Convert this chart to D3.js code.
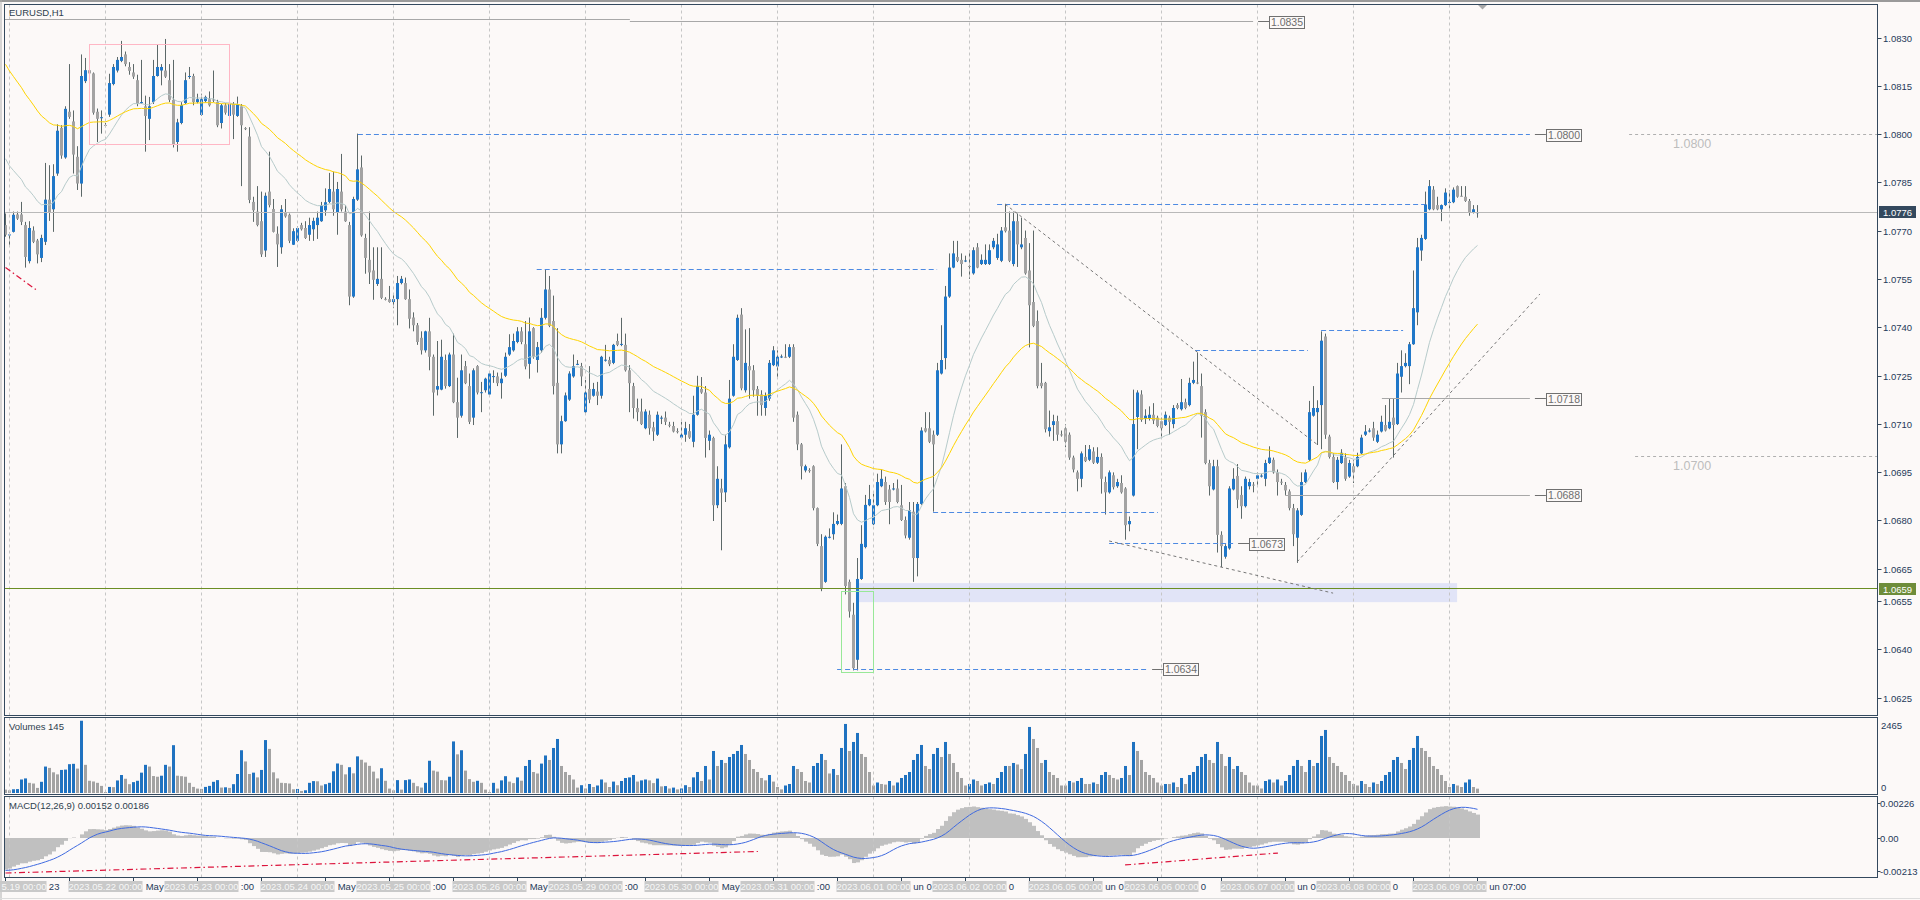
<!DOCTYPE html>
<html><head><meta charset="utf-8">
<script src="https://cdn.jsdelivr.net/npm/d3@7"></script>
<style>html,body{margin:0;padding:0;background:#fcf9f8;overflow:hidden}</style>
</head><body><svg id="chart" width="1920" height="900"></svg>
<script>
// ---------------- DATA (EURUSD H1, bar 0 = 18 May 23:00) ----------------
const open = [
1.07719,1.07688,1.07698,1.07752,1.07752,1.07719,1.07607,1.07702,1.07671,1.07617,1.07667,1.07798,
1.07768,1.07879,1.08021,1.07929,1.08071,1.08041,1.07931,1.07848,1.08166,1.08200,1.08190,1.08071,
1.08051,1.08030,1.08062,1.08157,1.08199,1.08229,1.08249,1.08210,1.08193,1.08169,1.08098,1.08088,
1.08049,1.08101,1.08182,1.08199,1.08199,1.08169,1.08108,1.07977,1.08036,1.08098,1.08180,1.08182,
1.08101,1.08061,1.08104,1.08110,1.08109,1.08101,1.08036,1.08091,1.08058,1.08095,1.08058,1.08088,
1.08020,1.07994,1.07791,1.07761,1.07731,1.07640,1.07823,1.07769,1.07692,1.07650,1.07759,1.07751,
1.07658,1.07670,1.07719,1.07710,1.07689,1.07706,1.07719,1.07731,1.07765,1.07791,1.07823,1.07759,
1.07823,1.07761,1.07719,1.07497,1.07798,1.07898,1.07679,1.07611,
1.07578,1.07536,1.07552,1.07490,1.07489,1.07480,1.07489,1.07539,1.07539,1.07489,1.07432,1.07408,
1.07369,1.07330,1.07389,1.07310,1.07208,1.07208,1.07300,1.07219,1.07317,1.07169,1.07127,1.07281,
1.07219,1.07121,1.07281,1.07199,1.07206,1.07193,1.07249,1.07249,1.07228,1.07251,1.07317,1.07330,
1.07356,1.07389,1.07349,1.07288,1.07399,1.07300,1.07330,1.07431,1.07519,1.07421,1.07229,1.07038,
1.07110,1.07177,1.07249,1.07287,1.07281,1.07138,1.07210,1.07189,1.07202,1.07189,1.07300,1.07300,
1.07291,1.07359,1.07349,1.07347,1.07268,1.07219,1.07151,1.07140,1.07088,1.07130,1.07091,1.07068,
1.07120,1.07121,1.07099,1.07095,1.07079,1.07059,1.07068,1.07079,1.07046,1.07130,1.07210,1.07199,
1.07049,1.07058,1.06849,1.06901,1.06889,1.07029,1.07189,1.07300,
1.07441,1.07206,1.07281,1.07268,1.07210,1.07193,1.07151,1.07180,1.07284,1.07280,1.07310,1.07310,
1.07310,1.07340,1.07130,1.07038,1.06957,1.06958,1.06970,1.06840,1.06722,1.06611,1.06748,1.06759,
1.06791,1.06791,1.06908,1.06611,1.06509,1.06369,1.06620,1.06719,1.06849,1.06790,1.06849,1.06908,
1.06921,1.06898,1.06899,1.06901,1.06849,1.06803,1.06748,1.06829,1.06685,1.06853,1.07088,1.07088,
1.07068,1.07068,1.07258,1.07306,1.07497,1.07587,1.07620,1.07611,1.07607,1.07592,1.07569,1.07650,
1.07598,1.07598,1.07598,1.07650,1.07617,1.07608,1.07712,1.07702,1.07598,1.07731,1.07650,1.07679,
1.07578,1.07480,1.07421,1.07229,1.07229,1.07079,1.07098,1.07110,1.07069,1.07088,1.07068,1.06997,
1.06951,1.06931,1.06999,1.06990,1.07016,1.06981,1.06999,1.06921,1.06889,
1.06942,1.06908,1.06918,1.06901,1.06790,1.06879,1.07123,1.07193,1.07117,1.07117,1.07130,1.07121,
1.07110,1.07098,1.07121,1.07101,1.07160,1.07147,1.07169,1.07160,1.07229,1.07230,1.07219,1.07138,
1.06980,1.06898,1.06970,1.06757,1.06689,1.06715,1.06898,1.06940,1.06881,1.06846,1.06908,1.06913,
1.06931,1.06940,1.06931,1.06980,1.06990,1.06951,1.06922,1.06912,1.06892,1.06840,1.06748,1.06819,
1.06921,1.06990,1.07127,1.07138,1.07160,1.07373,1.07062,1.06999,1.06921,1.06980,1.06997,1.06938,
1.06970,1.06970,1.07010,1.07068,1.07080,1.07088,1.07046,1.07078,1.07098,1.07088,1.07121,1.07101,
1.07248,1.07281,1.07281,1.07349,1.07448,1.07640,1.07676,1.07768,1.07829,1.07781,1.07768,1.07781,
1.07790,1.07790,1.07840,1.07810,1.07807,1.07794,1.07759,1.07758
];
const high = [
1.07755,1.07696,1.07761,1.07761,1.07791,1.07729,1.07731,1.07715,1.07676,1.07689,1.07912,1.07905,
1.07908,1.08032,1.08029,1.08088,1.08219,1.08075,1.07964,1.08249,1.08238,1.08206,1.08193,1.08081,
1.08075,1.08036,1.08189,1.08219,1.08241,1.08291,1.08258,1.08225,1.08219,1.08186,1.08232,1.08121,
1.08117,1.08232,1.08280,1.08219,1.08297,1.08219,1.08232,1.08049,1.08101,1.08193,1.08210,1.08189,
1.08127,1.08127,1.08121,1.08134,1.08199,1.08108,1.08095,1.08098,1.08098,1.08101,1.08118,1.08095,
1.08023,1.08023,1.07807,1.07840,1.07823,1.07820,1.07947,1.07800,1.07715,1.07781,1.07800,1.07755,
1.07709,1.07715,1.07726,1.07731,1.07742,1.07742,1.07761,1.07791,1.07833,1.07881,1.07885,1.07853,
1.07940,1.07781,1.07729,1.07807,1.08003,1.07935,1.07692,1.07761,
1.07650,1.07650,1.07650,1.07495,1.07530,1.07506,1.07561,1.07561,1.07556,1.07519,1.07448,1.07415,
1.07389,1.07391,1.07431,1.07317,1.07359,1.07363,1.07317,1.07323,1.07382,1.07245,1.07317,1.07297,
1.07258,1.07274,1.07284,1.07232,1.07245,1.07265,1.07268,1.07261,1.07261,1.07323,1.07380,1.07382,
1.07402,1.07402,1.07421,1.07432,1.07402,1.07356,1.07461,1.07581,1.07561,1.07500,1.07399,1.07127,
1.07199,1.07265,1.07317,1.07300,1.07291,1.07238,1.07281,1.07229,1.07232,1.07313,1.07347,1.07310,
1.07350,1.07382,1.07431,1.07382,1.07284,1.07229,1.07180,1.07180,1.07147,1.07143,1.07108,1.07140,
1.07127,1.07140,1.07108,1.07108,1.07088,1.07108,1.07108,1.07101,1.07189,1.07251,1.07247,1.07219,
1.07081,1.07062,1.06970,1.06931,1.07068,1.07238,1.07349,1.07441,
1.07461,1.07395,1.07399,1.07284,1.07219,1.07206,1.07199,1.07300,1.07343,1.07330,1.07317,1.07349,
1.07349,1.07349,1.07140,1.07042,1.06975,1.06964,1.06973,1.06842,1.06759,1.06755,1.06777,1.06827,
1.06820,1.07038,1.06918,1.06618,1.06546,1.06685,1.06787,1.06881,1.06912,1.06885,1.06947,1.06960,
1.06938,1.06912,1.06918,1.06929,1.06912,1.06814,1.06859,1.06859,1.06859,1.07091,1.07138,1.07138,
1.07081,1.07291,1.07408,1.07530,1.07631,1.07670,1.07670,1.07631,1.07624,1.07640,1.07650,1.07663,
1.07628,1.07659,1.07659,1.07679,1.07692,1.07713,1.07785,1.07761,1.07761,1.07755,1.07742,1.07702,
1.07663,1.07702,1.07454,1.07291,1.07232,1.07143,1.07130,1.07127,1.07081,1.07101,1.07075,1.07003,
1.06957,1.07016,1.07036,1.07036,1.07029,1.07029,1.07010,1.06938,1.06957,
1.06951,1.06931,1.06942,1.06905,1.06814,1.07208,1.07206,1.07206,1.07147,1.07156,1.07166,1.07127,
1.07121,1.07140,1.07127,1.07160,1.07166,1.07241,1.07180,1.07245,1.07295,1.07323,1.07258,1.07147,
1.06990,1.06990,1.06990,1.06768,1.06728,1.06908,1.06964,1.06977,1.06908,1.06938,1.06931,1.06921,
1.06951,1.06947,1.06990,1.07032,1.06997,1.06960,1.06931,1.06921,1.06898,1.06853,1.06840,1.06951,
1.06960,1.07173,1.07219,1.07175,1.07389,1.07382,1.07068,1.07010,1.06999,1.07023,1.07010,1.06990,
1.06990,1.07012,1.07068,1.07098,1.07088,1.07108,1.07081,1.07127,1.07160,1.07180,1.07180,1.07291,
1.07330,1.07321,1.07356,1.07578,1.07679,1.07689,1.07823,1.07859,1.07840,1.07807,1.07783,1.07833,
1.07827,1.07836,1.07842,1.07840,1.07840,1.07800,1.07781,1.07781
];
const low = [
1.07683,1.07657,1.07696,1.07735,1.07719,1.07587,1.07600,1.07663,1.07600,1.07604,1.07657,1.07732,
1.07698,1.07872,1.07925,1.07925,1.08049,1.07879,1.07828,1.07807,1.08160,1.08186,1.08062,1.07977,
1.08003,1.08023,1.08055,1.08153,1.08193,1.08225,1.08212,1.08186,1.08173,1.08088,1.08095,1.07947,
1.07983,1.08095,1.08180,1.08153,1.08176,1.08101,1.07960,1.07947,1.08032,1.08095,1.08173,1.08091,
1.08097,1.08058,1.08100,1.08087,1.08101,1.08023,1.08019,1.08062,1.08036,1.07986,1.08055,1.07840,
1.08014,1.07787,1.07729,1.07715,1.07620,1.07620,1.07774,1.07696,1.07589,1.07630,1.07742,1.07663,
1.07657,1.07666,1.07702,1.07676,1.07670,1.07670,1.07676,1.07729,1.07748,1.07787,1.07748,1.07689,
1.07761,1.07729,1.07470,1.07493,1.07794,1.07683,1.07568,1.07536,
1.07487,1.07530,1.07489,1.07485,1.07478,1.07461,1.07408,1.07535,1.07487,1.07398,1.07389,1.07347,
1.07317,1.07323,1.07268,1.07127,1.07190,1.07206,1.07211,1.07216,1.07166,1.07058,1.07121,1.07225,
1.07101,1.07098,1.07193,1.07138,1.07199,1.07190,1.07229,1.07219,1.07180,1.07247,1.07313,1.07326,
1.07352,1.07349,1.07271,1.07242,1.07304,1.07261,1.07323,1.07426,1.07402,1.07193,1.07010,1.07010,
1.07108,1.07173,1.07245,1.07284,1.07219,1.07134,1.07166,1.07186,1.07160,1.07180,1.07295,1.07281,
1.07287,1.07343,1.07343,1.07264,1.07138,1.07118,1.07110,1.07098,1.07085,1.07068,1.07049,1.07064,
1.07101,1.07098,1.07091,1.07075,1.07072,1.07055,1.07046,1.07055,1.07029,1.07127,1.07195,1.06997,
1.07020,1.06800,1.06840,1.06709,1.06859,1.07025,1.07186,1.07297,
1.07206,1.07199,1.07180,1.07186,1.07127,1.07127,1.07127,1.07173,1.07281,1.07245,1.07306,1.07306,
1.07306,1.07108,1.07020,1.06929,1.06951,1.06950,1.06833,1.06722,1.06582,1.06608,1.06746,1.06742,
1.06787,1.06787,1.06572,1.06500,1.06336,1.06336,1.06617,1.06715,1.06846,1.06787,1.06846,1.06905,
1.06850,1.06790,1.06895,1.06855,1.06800,1.06746,1.06742,1.06611,1.06628,1.06850,1.07075,1.07042,
1.06829,1.07064,1.07255,1.07271,1.07493,1.07585,1.07604,1.07559,1.07604,1.07552,1.07565,1.07585,
1.07595,1.07595,1.07595,1.07644,1.07611,1.07604,1.07696,1.07604,1.07591,1.07589,1.07644,1.07565,
1.07339,1.07402,1.07212,1.07212,1.07075,1.07062,1.07049,1.07049,1.07062,1.07029,1.06990,1.06951,
1.06892,1.06905,1.06983,1.06986,1.06977,1.06977,1.06885,1.06820,1.06885,
1.06898,1.06903,1.06885,1.06742,1.06768,1.06876,1.07023,1.07108,1.07101,1.07112,1.07101,1.07091,
1.07062,1.07095,1.07068,1.07088,1.07147,1.07143,1.07147,1.07156,1.07225,1.07225,1.07059,1.06976,
1.06879,1.06895,1.06702,1.06657,1.06683,1.06711,1.06895,1.06840,1.06807,1.06842,1.06898,1.06889,
1.06908,1.06935,1.06908,1.06977,1.06947,1.06879,1.06912,1.06881,1.06833,1.06722,1.06670,1.06816,
1.06918,1.06986,1.07124,1.07036,1.07023,1.07055,1.06994,1.06918,1.06898,1.06977,1.06925,1.06934,
1.06918,1.06967,1.07007,1.07064,1.07075,1.07049,1.07042,1.07075,1.07078,1.07085,1.06997,1.07098,
1.07199,1.07277,1.07225,1.07347,1.07408,1.07608,1.07673,1.07765,1.07765,1.07765,1.07731,1.07778,
1.07770,1.07787,1.07804,1.07807,1.07791,1.07748,1.07755,1.07742
];
const close = [
1.07689,1.07690,1.07751,1.07739,1.07729,1.07620,1.07710,1.07667,1.07628,1.07679,1.07798,1.07759,
1.07871,1.08012,1.07935,1.08080,1.08055,1.07938,1.07848,1.08182,1.08200,1.08190,1.08068,1.08049,
1.08054,1.08028,1.08160,1.08210,1.08232,1.08241,1.08219,1.08198,1.08180,1.08095,1.08101,1.08058,
1.08088,1.08182,1.08210,1.08210,1.08180,1.08108,1.07970,1.08038,1.08092,1.08169,1.08182,1.08101,
1.08110,1.08110,1.08117,1.08091,1.08107,1.08029,1.08091,1.08068,1.08095,1.08062,1.08095,1.08029,
1.08019,1.07797,1.07765,1.07719,1.07628,1.07810,1.07781,1.07698,1.07659,1.07768,1.07746,1.07670,
1.07700,1.07710,1.07706,1.07679,1.07719,1.07732,1.07742,1.07781,1.07790,1.07831,1.07768,1.07831,
1.07768,1.07731,1.07497,1.07800,1.07892,1.07687,1.07617,1.07572,
1.07549,1.07552,1.07493,1.07489,1.07480,1.07489,1.07539,1.07552,1.07489,1.07428,1.07408,1.07356,
1.07330,1.07389,1.07310,1.07199,1.07219,1.07310,1.07219,1.07317,1.07169,1.07121,1.07268,1.07228,
1.07108,1.07268,1.07199,1.07200,1.07242,1.07258,1.07250,1.07228,1.07242,1.07310,1.07340,1.07359,
1.07389,1.07356,1.07280,1.07389,1.07310,1.07340,1.07431,1.07519,1.07406,1.07219,1.07038,1.07110,
1.07190,1.07258,1.07281,1.07288,1.07249,1.07199,1.07177,1.07210,1.07189,1.07310,1.07301,1.07287,
1.07347,1.07347,1.07350,1.07268,1.07228,1.07151,1.07138,1.07101,1.07140,1.07088,1.07078,1.07130,
1.07121,1.07108,1.07098,1.07078,1.07078,1.07068,1.07088,1.07059,1.07130,1.07219,1.07199,1.07058,
1.07068,1.06849,1.06931,1.06888,1.07038,1.07180,1.07310,1.07431,
1.07212,1.07291,1.07268,1.07206,1.07189,1.07160,1.07189,1.07291,1.07330,1.07310,1.07311,1.07309,
1.07340,1.07121,1.07038,1.06970,1.06970,1.06956,1.06840,1.06729,1.06589,1.06751,1.06751,1.06791,
1.06800,1.06901,1.06598,1.06519,1.06343,1.06620,1.06729,1.06850,1.06868,1.06849,1.06921,1.06931,
1.06859,1.06859,1.06901,1.06859,1.06803,1.06755,1.06833,1.06685,1.06853,1.07081,1.07078,1.07046,
1.07038,1.07268,1.07300,1.07497,1.07587,1.07631,1.07608,1.07598,1.07609,1.07590,1.07641,1.07587,
1.07611,1.07611,1.07641,1.07670,1.07659,1.07702,1.07700,1.07608,1.07731,1.07659,1.07659,1.07569,
1.07470,1.07406,1.07219,1.07219,1.07085,1.07091,1.07110,1.07068,1.07067,1.07046,1.06997,1.06960,
1.06931,1.07010,1.06986,1.07023,1.06981,1.06999,1.06931,1.06889,1.06951,
1.06905,1.06921,1.06889,1.06787,1.06800,1.07101,1.07199,1.07114,1.07127,1.07130,1.07112,1.07095,
1.07088,1.07130,1.07108,1.07151,1.07151,1.07169,1.07151,1.07229,1.07238,1.07228,1.07127,1.06980,
1.06908,1.06970,1.06757,1.06722,1.06722,1.06901,1.06931,1.06866,1.06846,1.06931,1.06921,1.06911,
1.06942,1.06941,1.06980,1.06997,1.06951,1.06921,1.06920,1.06895,1.06840,1.06759,1.06833,1.06921,
1.06951,1.07138,1.07151,1.07151,1.07360,1.07068,1.06999,1.06921,1.06990,1.07012,1.06931,1.06980,
1.06951,1.06999,1.07059,1.07078,1.07081,1.07059,1.07068,1.07108,1.07081,1.07108,1.07098,1.07258,
1.07281,1.07291,1.07349,1.07461,1.07650,1.07679,1.07783,1.07840,1.07768,1.07768,1.07781,1.07820,
1.07791,1.07829,1.07807,1.07809,1.07794,1.07759,1.07768,1.07759
];
const volume = [
113,90,124,130,450,486,339,316,170,373,881,836,
689,621,768,780,960,972,813,2407,938,407,384,339,
237,34,203,195,418,599,475,294,362,407,678,938,
881,565,542,576,938,881,1593,576,560,542,339,203,
147,136,203,237,373,429,181,190,170,294,633,1424,
1051,633,678,520,768,1763,1469,689,486,339,330,316,
124,135,68,90,339,396,390,249,294,339,723,983,
938,621,859,655,1220,1107,1017,904,712,486,825,407,
147,90,429,113,429,452,339,226,181,339,1074,746,
712,429,420,542,1718,1288,1424,746,463,373,407,339,
113,34,339,147,
420,560,380,330,520,410,900,1100,700,650,980,1250,1100,1500,1800,900,700,600,450,180,260,
150,300,200,250,450,350,200,380,260,400,500,520,600,380,420,450,420,330,480,220,230,150,180,120,
150,260,200,520,700,400,900,450,1400,900,1100,1000,1200,1300,1400,1600,1300,1100,800,700,500,420,600,380,
200,120,250,300,900,800,700,400,350,900,1000,1300,1100,650,800,600,1500,2300,1400,1700,2000,1300,1200,700,
250,350,300,280,400,250,350,500,600,700,1100,1300,1600,900,800,1300,1500,1200,1700,1300,1000,700,500,250,
300,450,400,250,300,350,300,500,700,900,900,1000,950,800,1300,2200,1800,1500,1000,1100,700,600,500,250,
250,400,350,400,500,300,300,350,300,600,700,600,500,450,500,900,600,1700,1400,1100,700,600,500,350,
250,300,300,350,200,500,300,600,700,900,1200,1300,1100,1000,1700,1300,900,1200,800,900,700,600,350,250,
250,150,400,450,350,450,250,400,600,900,1100,900,700,1100,900,1000,1900,2100,1200,1000,900,700,600,400,
300,250,400,300,200,350,300,400,600,700,1100,1200,1000,800,1100,1500,1900,1500,1400,1200,900,800,600,400,
200,300,250,200,350,450,200,145
];
// day separators (bar index of 00:00) and their labels
const dayStartBars = [1,25,49,73,97,121,145,169,193,217,241,265,289,313,337,361];
const dayLabels = ["2023.05.19 00:00","2023.05.22 00:00","2023.05.23 00:00","2023.05.24 00:00","2023.05.25 00:00","2023.05.26 00:00","2023.05.29 00:00","2023.05.30 00:00","2023.05.31 00:00","2023.06.01 00:00","2023.06.02 00:00","2023.06.05 00:00","2023.06.06 00:00","2023.06.07 00:00","2023.06.08 00:00","2023.06.09 00:00"];
const timeTickBars = [0,16,32,48,64,80,96,112,128,144,160,176,192,208,224,240,256,272,288,304,320,336,352,368];
const timeTickLabels = ["18 May 2023","19 May 15:00","22 May 07:00","22 May 23:00","23 May 15:00","24 May 07:00","24 May 23:00","25 May 15:00","26 May 07:00","26 May 23:00","29 May 15:00","30 May 07:00","30 May 23:00","31 May 15:00","1 Jun 07:00","1 Jun 23:00","2 Jun 15:00","5 Jun 07:00","5 Jun 23:00","6 Jun 15:00","7 Jun 07:00","7 Jun 23:00","8 Jun 15:00","9 Jun 07:00"];
const priceTicks = [1.0830,1.0815,1.0800,1.0785,1.0770,1.0755,1.0740,1.0725,1.0710,1.0695,1.0680,1.0665,1.0655,1.0640,1.0625];
const volumeAxisLabels = ["2465","0"];
const macdTicks = [0.00226,0,-0.00213];
const macdTickLabels = ["0.00226","0.00","-0.00213"];
const maSlowPeriod = 50, maSlowStart = 1.0824;
const maFastPeriod = 20, maFastStart = 1.0795;
const ema12Start = 1.0781, ema26Start = 1.0802, macdStart = -0.0021;
const macdTitleValues = ["0.00152","0.00186"];
// chart objects: [price, fromBar, toBar]
const blueLevels = [[1.0800,88.1,381.1],[1.07783,247.9,354.9],[1.07581,132.8,232.9],[1.0733,297.4,325.6],[1.07393,328.9,349.4],[1.06827,231.9,288.1],[1.0673,275.9,306.9],[1.0634,207.9,285.4]];
const grayLevels = [[1.0718,344.1,381.1],[1.0688,319.9,381.1],[1.0835,156.1,311.9],[1.08357,-1,156.1]];
const labeledLevels = [[1.0835,311.9],[1.0800,381.1],[1.0718,381.1],[1.0688,381.1],[1.0673,306.9],[1.0634,285.4]];
const trendLines = [[249.9,1.07784,328.1,1.07036],[275.9,1.06738,331.9,1.06576],[322.9,1.06673,383.6,1.07505]];
const redPriceLines = [[0,1.07587,7.8,1.07517]];
const redMacdLines = [[0,-0.00226,188.1,-0.00087],[279.9,-0.00174,318.1,-0.00097]];
const pinkBox = [20.9,1.08280,56.0,1.07969];
const greenBox = [208.9,1.06581,216.95,1.06330];
const zoneBox = [213.1,1.06607,362.9,1.06548];
const greenLevel = 1.0659;
const rightLevels = [[1.0800,405.9,468],[1.0700,407.4,468]];

// ---------------- DRAWING ----------------
const BG = '#fcf9f8', FRAME = '#34495e', AXT = '#1f3a5a';
const FONT = 'Liberation Sans, Arial, sans-serif';
const BULL = '#1f77c8', BEAR = '#a3a3a3', WICK = '#5c6868';
const n = close.length;
const svg = d3.select('#chart');
svg.append('rect').attr('width',1920).attr('height',900).attr('fill',BG);

const L = 4.5, R = 1877.5;
const P = {mainT:4.5, mainB:715.5, volT:717.5, volB:794.5, macT:796.5, macB:877.5};

const x = d3.scaleLinear().domain([0,368]).range([5.5,1477.5]);
const y = d3.scaleLinear().domain([1.0625,1.0830]).range([698.1,38]);
const yv = d3.scaleLinear().domain([0,2465]).range([793,719]);
const ym = d3.scaleLinear().domain([-0.00213,0.00226]).range([871,803]);
const snap = v => Math.round(v - 0.5) + 0.5;

const defs = svg.append('defs');
function clip(id,x0,y0,x1,y1){defs.append('clipPath').attr('id',id).append('rect').attr('x',x0).attr('y',y0).attr('width',x1-x0).attr('height',y1-y0);}
clip('cMain',5,5,1877,715); clip('cVol',5,718,1877,794); clip('cMac',5,797,1877,877);

// ---- main panel
const gm = svg.append('g').attr('clip-path','url(#cMain)');
gm.append('rect').attr('x',x(zoneBox[0])).attr('y',y(zoneBox[1])).attr('width',x(zoneBox[2])-x(zoneBox[0])).attr('height',y(zoneBox[3])-y(zoneBox[1])).attr('fill','#e1e4f7');

const idx = d3.range(n);
gm.append('g').selectAll('line').data(idx).join('line')
  .attr('x1',i=>x(i)).attr('x2',i=>x(i)).attr('y1',i=>y(high[i])).attr('y2',i=>y(low[i]))
  .attr('stroke',WICK).attr('stroke-width',1);
gm.append('g').selectAll('rect').data(idx).join('rect')
  .attr('x',i=>x(i)-1.5).attr('width',3)
  .attr('y',i=>Math.min(y(open[i]),y(close[i])))
  .attr('height',i=>Math.max(1,Math.abs(y(open[i])-y(close[i]))))
  .attr('fill',i=>close[i]>=open[i]?BULL:BEAR);

function grid(g,y0,y1){
  g.append('g').selectAll('line').data(dayStartBars).join('line')
   .attr('x1',d=>x(d)).attr('x2',d=>x(d)).attr('y1',y0).attr('y2',y1)
   .attr('stroke','#c6c6c6').attr('stroke-dasharray','3,3');
}
grid(gm,P.mainT,P.mainB);

// moving averages
function ema(src,period,start){const k=2/(period+1);let e=start;return src.map(v=>(e=e+k*(v-e)));}
const maSlow = ema(close,maSlowPeriod,maSlowStart);
const maFast = ema(close,maFastPeriod,maFastStart);
const line = d3.line().x((d,i)=>x(i)).y(d=>y(d));
gm.append('path').attr('d',line(maFast)).attr('fill','none').attr('stroke','#b7cbcb').attr('stroke-width',1);
gm.append('path').attr('d',line(maSlow)).attr('fill','none').attr('stroke','#ffd400').attr('stroke-width',1);

// horizontal lines
const last = close[n-1];
gm.append('line').attr('x1',L).attr('x2',R).attr('y1',snap(y(last))).attr('y2',snap(y(last))).attr('stroke','#b9b9b9');
gm.append('line').attr('x1',L).attr('x2',R).attr('y1',snap(y(greenLevel))).attr('y2',snap(y(greenLevel))).attr('stroke','#6b8e23');
gm.selectAll('.bl').data(blueLevels).join('line')
  .attr('x1',d=>x(d[1])).attr('x2',d=>x(d[2])).attr('y1',d=>snap(y(d[0]))).attr('y2',d=>snap(y(d[0])))
  .attr('stroke','#4d8ae2').attr('stroke-dasharray','5,3');
gm.selectAll('.gl').data(grayLevels).join('line')
  .attr('x1',d=>Math.max(L,x(d[1]))).attr('x2',d=>x(d[2])).attr('y1',d=>snap(y(d[0]))).attr('y2',d=>snap(y(d[0])))
  .attr('stroke','#a8a8a8');
gm.selectAll('.rl').data(rightLevels).join('line')
  .attr('x1',d=>x(d[1])).attr('x2',d=>x(d[2])).attr('y1',d=>snap(y(d[0]))).attr('y2',d=>snap(y(d[0])))
  .attr('stroke','#b0b0b0').attr('stroke-dasharray','3,3');
gm.selectAll('.rt').data(rightLevels).join('text')
  .attr('x',1673).attr('y',d=>y(d[0])+13).text(d=>d[0].toFixed(4))
  .attr('font-family',FONT).attr('font-size',12.5).attr('fill','#bdbdbd');
gm.selectAll('.tl').data(trendLines).join('line')
  .attr('x1',d=>x(d[0])).attr('y1',d=>y(d[1])).attr('x2',d=>x(d[2])).attr('y2',d=>y(d[3]))
  .attr('stroke','#777').attr('stroke-dasharray','3,3');
gm.selectAll('.rp').data(redPriceLines).join('line')
  .attr('x1',d=>x(d[0])).attr('y1',d=>y(d[1])).attr('x2',d=>x(d[2])).attr('y2',d=>y(d[3]))
  .attr('stroke','#dc143c').attr('stroke-width',1.2).attr('stroke-dasharray','6,3,1.5,3');
function box(b,col){gm.append('rect').attr('x',snap(x(b[0]))).attr('y',snap(y(b[1]))).attr('width',Math.round(x(b[2])-x(b[0]))).attr('height',Math.round(y(b[3])-y(b[1]))).attr('fill','none').attr('stroke',col);}
box(pinkBox,'#ffb7c5'); box(greenBox,'#98e898');
// level labels
const lab = gm.selectAll('.lab').data(labeledLevels).join('g');
lab.append('line').attr('x1',d=>x(d[1])+5).attr('x2',d=>x(d[1])+16).attr('y1',d=>snap(y(d[0]))).attr('y2',d=>snap(y(d[0]))).attr('stroke','#707070');
lab.append('rect').attr('x',d=>Math.round(x(d[1])+16)+0.5).attr('y',d=>Math.round(y(d[0])-6)+0.5).attr('width',35).attr('height',12).attr('fill',BG).attr('stroke','#707070');
lab.append('text').attr('x',d=>Math.round(x(d[1])+34)).attr('y',d=>Math.round(y(d[0])+4)).attr('text-anchor','middle')
  .text(d=>d[0].toFixed(4)).attr('font-family',FONT).attr('font-size',10.5).attr('fill','#6e6e6e');

// ---- volume panel
const gv = svg.append('g').attr('clip-path','url(#cVol)');
gv.selectAll('rect').data(idx).join('rect')
  .attr('x',i=>x(i)-1.5).attr('width',3).attr('y',i=>yv(volume[i])).attr('height',i=>yv(0)-yv(volume[i]))
  .attr('fill',i=>(i>0&&volume[i]>volume[i-1])?'#1f72c0':'#a3a3a3');
grid(gv,P.volT,P.volB);

// ---- MACD panel
const e12 = ema(close,12,ema12Start), e26 = ema(close,26,ema26Start);
const macd = e12.map((v,i)=>v-e26[i]);
const signal = macd.map((v,i)=>{let s=0;for(let k=i-8;k<=i;k++)s+=(k>=0?macd[k]:macdStart);return s/9;});
const gc = svg.append('g').attr('clip-path','url(#cMac)');
gc.selectAll('rect').data(idx).join('rect')
  .attr('x',i=>x(i)-1.5).attr('width',4)
  .attr('y',i=>Math.min(ym(0),ym(macd[i]))).attr('height',i=>Math.abs(ym(macd[i])-ym(0)))
  .attr('fill','#c0c0c0');
grid(gc,P.macT,P.macB);
gc.append('path').attr('d',d3.line().x((d,i)=>x(i)).y(d=>ym(d))(signal)).attr('fill','none').attr('stroke','#3f6ae0').attr('stroke-width',1);
gc.selectAll('.rm').data(redMacdLines).join('line')
  .attr('x1',d=>x(d[0])).attr('y1',d=>ym(d[1])).attr('x2',d=>x(d[2])).attr('y2',d=>ym(d[3]))
  .attr('stroke','#dc143c').attr('stroke-width',1.2).attr('stroke-dasharray','6,3,1.5,3');

// ---- frames
svg.append('line').attr('x1',0).attr('x2',1920).attr('y1',1).attr('y2',1).attr('stroke','#9a9a9a').attr('stroke-width',2);
svg.append('line').attr('x1',1).attr('x2',1).attr('y1',0).attr('y2',900).attr('stroke','#b0b0b0').attr('stroke-width',1);
svg.append('line').attr('x1',0).attr('x2',1920).attr('y1',898.5).attr('y2',898.5).attr('stroke','#dcdcdc');
[[P.mainT,P.mainB],[P.volT,P.volB],[P.macT,P.macB]].forEach(([t,b])=>{
  svg.append('rect').attr('x',L).attr('y',t).attr('width',R-L).attr('height',b-t).attr('fill','none').attr('stroke',FRAME);
});
// shift marker
svg.append('path').attr('d','M1478,5 L1487,5 L1482.5,9.5 Z').attr('fill','#a8a8a8');

// ---- texts
const T = (xx,yy,s,opt={})=>svg.append('text').attr('x',xx).attr('y',yy).text(s).attr('font-family',FONT).attr('font-size',opt.size||9.5).attr('fill',opt.fill||'#2d3e4e').attr('text-anchor',opt.anchor||'start');
T(9,16,'EURUSD,H1');
T(9,730,'Volumes '+volume[n-1]);
T(9,809,'MACD(12,26,9) '+macdTitleValues.join(' '));

// price axis
priceTicks.forEach(p=>{
  const yy = snap(y(p));
  svg.append('line').attr('x1',R).attr('x2',R+4).attr('y1',yy).attr('y2',yy).attr('stroke',FRAME);
  T(1883,yy+3.5,p.toFixed(4),{fill:AXT});
});
function priceTag(p,col){
  const yy = Math.round(y(p));
  svg.append('rect').attr('x',1879).attr('y',yy-6).attr('width',37).attr('height',12).attr('fill',col);
  T(1883,yy+3.5,p.toFixed(4),{fill:'#ffffff'});
}
priceTag(last,'#34495e');
priceTag(greenLevel,'#6e8c3a');
// volume axis
T(1881,728.5,volumeAxisLabels[0],{fill:AXT});
T(1881,791,volumeAxisLabels[1],{fill:AXT});
// macd axis
macdTicks.forEach((v,k)=>{
  const yy = snap(ym(v));
  svg.append('line').attr('x1',R).attr('x2',R+3).attr('y1',yy).attr('y2',yy).attr('stroke',FRAME);
  T(1880,yy+3.5,macdTickLabels[k],{fill:AXT});
});

// time axis: regular labels are partly covered by the day-separator boxes,
// so only the characters that remain visible are kept as text.
const boxes = dayStartBars.map(b=>[x(b)-37, x(b)+37]);
function visibleFragments(xx,yy,s,anchor,blockers,fill){
  const t = T(xx,yy,s,{fill,anchor});
  const node = t.node();
  const ext = d3.range(s.length).map(c=>{const e=node.getExtentOfChar(c);return [e.x,e.x+e.width];});
  t.remove();
  const vis = ext.map(([a,z])=>a>=0 && !blockers.some(([b0,b1])=>z>b0+0.3 && a<b1-0.3));
  let c=0;
  while(c<s.length){
    if(!vis[c]){c++;continue;}
    let d=c; while(d<s.length&&vis[d]) d++;
    let c0=c; while(c0<d && s[c0]===' ') c0++;
    const frag = s.slice(c0,d).trimEnd();
    if(frag) T(ext[c0][0],yy,frag,{fill});
    c=d;
  }
}
timeTickBars.forEach((b,k)=>{
  svg.append('line').attr('x1',x(b)).attr('x2',x(b)).attr('y1',877.5).attr('y2',881).attr('stroke',FRAME);
  visibleFragments(x(b)-1,890,timeTickLabels[k],'start',boxes,AXT);
});
dayStartBars.forEach((b,k)=>{
  svg.append('rect').attr('x',x(b)-37).attr('y',881).attr('width',74).attr('height',11).attr('fill','#c9c9c9');
  visibleFragments(x(b),890,dayLabels[k],'middle',[],'#f7f7f7');
});
console.log(open.length,high.length,low.length,close.length,volume.length, macd[n-1], signal[n-1]);
</script></body></html>
